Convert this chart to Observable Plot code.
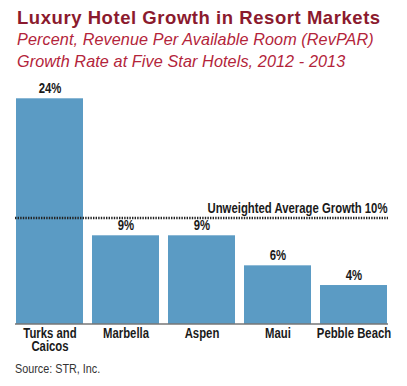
<!DOCTYPE html>
<html>
<head>
<meta charset="utf-8">
<script src="https://cdn.jsdelivr.net/npm/d3@7"></script>
<script src="https://cdn.jsdelivr.net/npm/@observablehq/plot@0.6"></script>
<style>
  html, body { margin: 0; padding: 0; background: #fff; }
  #wrap { position: relative; width: 407px; height: 386px; overflow: hidden; }
  #title { position: absolute; left: 17px; top: 7px; font-family: "Liberation Sans", Arial, sans-serif; font-weight: bold; font-size: 18.5px; letter-spacing: 0.55px; color: #8b1a2e; white-space: nowrap; }
  #subtitle { position: absolute; left: 17px; top: 28px; font-family: "Liberation Sans", Arial, sans-serif; font-style: italic; font-size: 16.2px; line-height: 22px; letter-spacing: 0.1px; color: #b3243a; white-space: nowrap; }
  #chart { position: absolute; left: 0; top: 70px; }
  #source { position: absolute; left: 15px; top: 361px; font-family: "Liberation Sans", Arial, sans-serif; font-size: 13px; color: #333; white-space: nowrap; transform: scaleX(0.83); transform-origin: 0 0; }
</style>
</head>
<body>
<div id="wrap">
  <div id="title">Luxury Hotel Growth in Resort Markets</div>
  <div id="subtitle">Percent, Revenue Per Available Room (RevPAR)<br>Growth Rate at Five Star Hotels, 2012 - 2013</div>
  <div id="chart"></div>
  <div id="source">Source: STR, Inc.</div>
</div>
<script>
const categories = ["Turks and Caicos", "Marbella", "Aspen", "Maui", "Pebble Beach"];
const tickLabels = ["Turks and\nCaicos", "Marbella", "Aspen", "Maui", "Pebble Beach"];
const growth = [24, 9.4, 9.4, 6.2, 4.1];
const valueLabels = ["24%", "9%", "9%", "6%", "4%"];
const averageGrowth = 11.3;
const averageLabel = "Unweighted Average Growth 10%";

const data = categories.map((c, i) => ({name: c, value: growth[i], label: valueLabels[i]}));
const tickMap = new Map(categories.map((c, i) => [c, tickLabels[i]]));
const font = "'Liberation Sans', Arial, sans-serif";

const chart = Plot.plot({
  width: 407,
  height: 292,
  marginLeft: 15,
  marginRight: 19,
  marginTop: 28.3,
  marginBottom: 38.5,
  style: {fontFamily: font, background: "transparent"},
  x: {domain: categories, paddingInner: 0.123, paddingOuter: 0},
  y: {domain: [0, 24], axis: null},
  marks: [
    Plot.barY(data, {x: "name", y: "value", fill: "#5b9bc4"}),
    Plot.ruleY([0], {stroke: "#333", strokeWidth: 1.2}),
    Plot.ruleY([averageGrowth], {stroke: "#222", strokeWidth: 2.5, strokeDasharray: "1.4 1.2"}),
    Plot.text([{v: averageGrowth, t: averageLabel}], {y: "v", text: "t", frameAnchor: "right", textAnchor: "end", lineAnchor: "bottom", dy: -5, dx: -1, fontSize: 14, fontWeight: "bold", fill: "#1a1a1a"}),
    Plot.text(data, {x: "name", y: "value", text: "label", lineAnchor: "bottom", dy: -6, fontSize: 14, fontWeight: "bold", fill: "#1a1a1a"}),
    Plot.axisX({tickSize: 0, tickPadding: 5, tickFormat: d => tickMap.get(d), fontSize: 14, fontWeight: "bold", lineHeight: 0.93, fill: "#1a1a1a", label: null})
  ]
});
document.getElementById("chart").appendChild(chart);

// Condense bold labels horizontally (narrow typeface look)
const squeeze = 0.81;
chart.querySelectorAll("text").forEach(t => {
  const spans = t.querySelectorAll("tspan");
  const leaves = spans.length ? Array.from(spans) : [t];
  leaves.forEach(el => {
    const len = el.getComputedTextLength();
    if (len > 0) {
      el.setAttribute("textLength", (len * squeeze).toFixed(2));
      el.setAttribute("lengthAdjust", "spacingAndGlyphs");
    }
  });
});
</script>
</body>
</html>
